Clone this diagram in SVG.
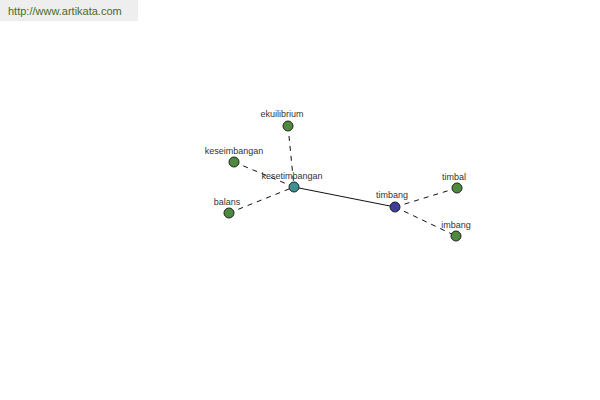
<svg xmlns="http://www.w3.org/2000/svg" width="600" height="400" viewBox="0 0 600 400">
<style>
.lbl{font-family:"Liberation Sans",Arial,sans-serif;font-size:9px;fill:#333;text-anchor:middle}
.n{stroke:#222;stroke-width:1}
.g{fill:#4e8a3e}
.d{stroke:#111;stroke-width:1;stroke-dasharray:5,5;fill:none}
</style>
<rect width="600" height="400" fill="#fff"/>
<rect x="0" y="0" width="138" height="21" fill="#eeeeee"/>
<text x="8" y="15" font-family="Liberation Sans,Arial,sans-serif" font-size="11" fill="#4a6a2a">http://www.artikata.com</text>
<g id="connectors">
<line class="d" x1="288" y1="126" x2="294" y2="187"/>
<line class="d" x1="234" y1="162" x2="294" y2="187"/>
<line class="d" x1="229" y1="213" x2="294" y2="187"/>
<line x1="294" y1="187" x2="395" y2="207" stroke="#111" stroke-width="1"/>
<line class="d" x1="395" y1="207" x2="457" y2="188"/>
<line class="d" x1="395" y1="207" x2="456" y2="236"/>
</g>
<g id="ekuilibrium"><circle class="n g" cx="288" cy="126" r="5"/><text class="lbl" x="282" y="117">ekuilibrium</text></g>
<g id="keseimbangan"><circle class="n g" cx="234" cy="162" r="5"/><text class="lbl" x="234" y="154">keseimbangan</text></g>
<g id="balans"><circle class="n g" cx="229" cy="213" r="5"/><text class="lbl" x="227" y="205">balans</text></g>
<g id="kesetimbangan"><circle class="n" fill="#3f9090" cx="294" cy="187" r="5"/><text class="lbl" x="292" y="179">kesetimbangan</text></g>
<g id="timbang"><circle class="n" fill="#3d3d9a" cx="395" cy="207" r="5"/><text class="lbl" x="392" y="198">timbang</text></g>
<g id="timbal"><circle class="n g" cx="457" cy="188" r="5"/><text class="lbl" x="454" y="180">timbal</text></g>
<g id="imbang"><circle class="n g" cx="456" cy="236" r="5"/><text class="lbl" x="456" y="228">imbang</text></g>
</svg>
